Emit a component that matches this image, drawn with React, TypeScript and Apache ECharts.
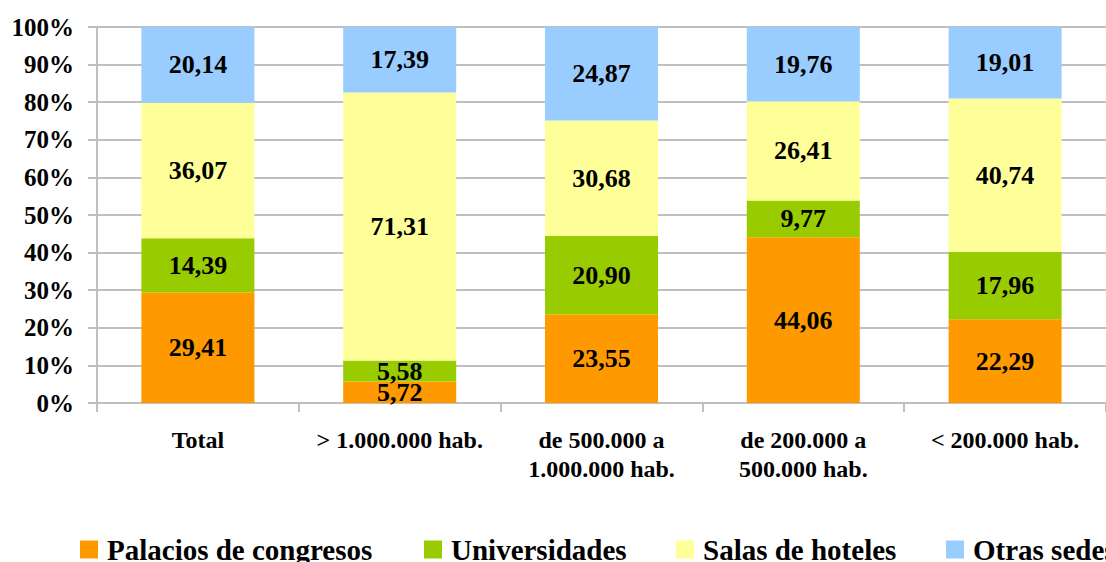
import React, { useEffect, useRef } from "react";
import * as echarts from "echarts";

const categories = [
  "Total",
  "> 1.000.000 hab.",
  "de 500.000 a\n1.000.000 hab.",
  "de 200.000 a\n500.000 hab.",
  "< 200.000 hab.",
];
const seriesNames = ["Palacios de congresos", "Universidades", "Salas de hoteles", "Otras sedes"];
const palacios = [29.41, 5.72, 23.55, 44.06, 22.29];
const universidades = [14.39, 5.58, 20.9, 9.77, 17.96];
const salas = [36.07, 71.31, 30.68, 26.41, 40.74];
const otras = [20.14, 17.39, 24.87, 19.76, 19.01];
const colors = ["#FF9900", "#99CC00", "#FFFF99", "#99CCFF"];
const legendLefts = [75, 419, 671, 941];

const FONT = "Liberation Serif, Times New Roman, serif";

export default function App() {
  const ref = useRef<HTMLDivElement>(null);
  useEffect(() => {
    if (!ref.current) return;
    const chart = echarts.init(ref.current, undefined, { renderer: "svg" });
    const values = [palacios, universidades, salas, otras];
    const gray = "#BFBFBF";
    chart.setOption({
      animation: false,
      textStyle: { fontFamily: FONT },
      grid: { left: 97, top: 27, width: 1020, height: 376, containLabel: false },
      legend: seriesNames.map((n, i) => ({
        data: [n],
        left: legendLefts[i],
        top: 530,
        itemWidth: 18,
        itemHeight: 18,
        itemGap: 0,
        icon: "rect",
        selectedMode: false,
        textStyle: {
          fontFamily: FONT,
          fontWeight: "bold",
          fontSize: 29,
          color: "#000",
          lineHeight: 29,
          padding: [0, 0, 0, 4],
        },
      })),
      xAxis: {
        type: "category",
        data: categories,
        axisLine: { lineStyle: { color: gray, width: 2 } },
        axisTick: { show: true, length: 9, lineStyle: { color: gray, width: 2 } },
        axisLabel: {
          fontFamily: FONT,
          fontWeight: "bold",
          fontSize: 24,
          color: "#000",
          lineHeight: 29,
          margin: 22,
          interval: 0,
        },
      },
      yAxis: {
        type: "value",
        min: 0,
        max: 100,
        interval: 10,
        axisLine: { show: true, lineStyle: { color: gray, width: 2 } },
        axisTick: { show: true, length: 9, lineStyle: { color: gray, width: 2 } },
        splitLine: { show: true, lineStyle: { color: gray, width: 2 } },
        axisLabel: {
          formatter: "{value}%",
          fontFamily: FONT,
          fontWeight: "bold",
          fontSize: 25,
          color: "#000",
          margin: 23,
        },
      },
      series: seriesNames.map((n, i) => ({
        name: n,
        type: "bar",
        stack: "total",
        barWidth: "56%",
        itemStyle: { color: colors[i] },
        data: values[i],
        label: {
          show: true,
          position: "inside",
          fontFamily: FONT,
          fontWeight: "bold",
          fontSize: 26,
          color: "#000",
          formatter: (p: any) => Number(p.value).toFixed(2).replace(".", ","),
        },
      })),
    });
    return () => chart.dispose();
  }, []);
  return (
    <div
      ref={ref}
      style={{ position: "fixed", left: 0, top: 0, width: 1106, height: 562, background: "#fff" }}
    />
  );
}
